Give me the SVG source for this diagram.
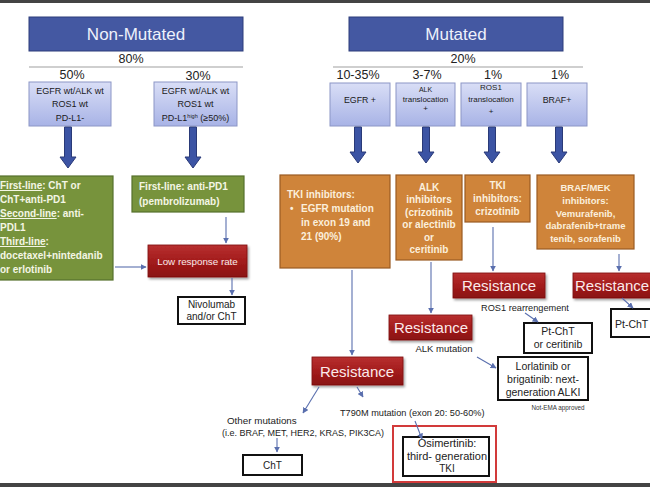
<svg xmlns="http://www.w3.org/2000/svg" width="650" height="487" viewBox="0 0 650 487">
<defs>
<linearGradient id="gBlue" x1="0" y1="0" x2="0" y2="1"><stop offset="0" stop-color="#d9def6"/><stop offset="1" stop-color="#a8b3e6"/></linearGradient>
<linearGradient id="gRed" x1="0" y1="0" x2="0" y2="1"><stop offset="0" stop-color="#b83030"/><stop offset="0.5" stop-color="#a31c1c"/><stop offset="1" stop-color="#8a1212"/></linearGradient>
<filter id="sh" x="-10%" y="-10%" width="130%" height="140%"><feDropShadow dx="1.5" dy="2" stdDeviation="1.2" flood-color="#000" flood-opacity="0.35"/></filter>
<marker id="ah" viewBox="0 0 10 10" refX="9" refY="5" markerWidth="6" markerHeight="6" markerUnits="userSpaceOnUse" orient="auto"><path d="M0,0 L10,5 L0,10 z" fill="#5a6fae"/></marker>
<style>
text{font-family:"Liberation Sans",Arial,sans-serif;}
.hdr{fill:#4458a2;stroke:#2d3c7a;stroke-width:1;}
.hdrt{fill:#eef1fb;font-size:17px;text-anchor:middle;}
.pct{fill:#222;font-size:12.5px;text-anchor:middle;}
.sep{stroke:#a0a0a0;stroke-width:1.2;}
.lb{fill:url(#gBlue);stroke:#8c96c6;stroke-width:1;}
.lbt{fill:#1a1a1a;font-size:9px;text-anchor:middle;}
.grn{fill:#77933c;stroke:#56702c;stroke-width:1.2;}
.grt{fill:#f4f6e4;font-size:10px;font-weight:bold;}
.org{fill:#cf843a;stroke:#9a5a22;stroke-width:1.2;}
.ort{fill:#fbefdc;font-size:10px;font-weight:bold;}
.ortc{fill:#fbefdc;font-size:10px;font-weight:bold;text-anchor:middle;}
.red{fill:url(#gRed);stroke:#7a1010;stroke-width:0.8;filter:url(#sh);}
.rest{fill:#fbeaea;font-size:15px;text-anchor:middle;}
.bx{fill:#fff;stroke:#111;stroke-width:2;}
.bxt{fill:#222;font-size:10.5px;text-anchor:middle;}
.lab{fill:#222;font-size:9.2px;}
.con{stroke:#5a6fae;stroke-width:1.1;fill:none;marker-end:url(#ah);}
.big{fill:#3c54a4;stroke:#2a3a78;stroke-width:1;}
</style>
</defs>
<rect x="0" y="0" width="650" height="487" fill="#fff"/>
<rect x="0" y="0" width="650" height="3" fill="#444"/>
<rect x="0" y="483" width="650" height="4" fill="#444"/>

<g id="non-mutated">
<rect class="hdr" x="29" y="17" width="214" height="34"/>
<text class="hdrt" x="136" y="40">Non-Mutated</text>
<text class="pct" x="131" y="63">80%</text>
<line class="sep" x1="29" y1="67" x2="243" y2="67"/>
</g>
<g id="mutated">
<rect class="hdr" x="349" y="17" width="214" height="34"/>
<text class="hdrt" x="456" y="40">Mutated</text>
<text class="pct" x="463" y="63">20%</text>
<line class="sep" x1="333" y1="67" x2="583" y2="67"/>
</g>

<g id="nm50">
<text class="pct" x="72" y="79">50%</text>
<rect class="lb" x="29" y="82" width="82" height="44"/>
<text class="lbt" x="70" y="94">EGFR wt/ALK wt</text>
<text class="lbt" x="70" y="107">ROS1 wt</text>
<text class="lbt" x="70" y="121">PD-L1-</text>
</g>
<g id="nm30">
<text class="pct" x="198" y="80">30%</text>
<rect class="lb" x="154" y="82" width="83" height="44"/>
<text class="lbt" x="195.5" y="94">EGFR wt/ALK wt</text>
<text class="lbt" x="195.5" y="107">ROS1 wt</text>
<text class="lbt" x="195.5" y="121">PD-L1<tspan style="font-size:5.5px" dy="-3.5">high</tspan><tspan dy="3.5"> (≥50%)</tspan></text>
</g>
<g id="egfr">
<text class="pct" x="358" y="79">10-35%</text>
<rect class="lb" x="330" y="83" width="60" height="43"/>
<text class="lbt" x="360" y="103" style="font-size:8.8px">EGFR +</text>
</g>
<g id="alk">
<text class="pct" x="427" y="79">3-7%</text>
<rect class="lb" x="396" y="83" width="59" height="43"/>
<text class="lbt" x="425.5" y="92" style="font-size:7px">ALK</text>
<text class="lbt" x="425.5" y="102" style="font-size:8px">translocation</text>
<text class="lbt" x="425.5" y="111" style="font-size:8px">+</text>
</g>
<g id="ros1">
<text class="pct" x="493" y="79">1%</text>
<rect class="lb" x="461" y="83" width="60" height="43"/>
<text class="lbt" x="491" y="90" style="font-size:8px">ROS1</text>
<text class="lbt" x="491" y="102" style="font-size:8px">translocation</text>
<text class="lbt" x="491" y="114" style="font-size:8px">+</text>
</g>
<g id="braf">
<text class="pct" x="560" y="79">1%</text>
<rect class="lb" x="527" y="83" width="60" height="43"/>
<text class="lbt" x="557" y="103" style="font-size:8.8px">BRAF+</text>
</g>

<g id="first-line-cht">
<rect class="grn" x="-3" y="176" width="116" height="104"/>
<text class="grt" x="0" y="189"><tspan text-decoration="underline">First-line</tspan>: ChT or</text>
<text class="grt" x="0" y="203">ChT+anti-PD1</text>
<text class="grt" x="0" y="217"><tspan text-decoration="underline">Second-line</tspan>: anti-</text>
<text class="grt" x="0" y="231">PDL1</text>
<text class="grt" x="0" y="245"><tspan text-decoration="underline">Third-line</tspan>:</text>
<text class="grt" x="0" y="259">docetaxel+nintedanib</text>
<text class="grt" x="0" y="273">or erlotinib</text>
</g>
<g id="first-line-pd1">
<rect class="grn" x="132" y="176" width="112" height="36"/>
<text class="grt" x="139" y="190">First-line: anti-PD1</text>
<text class="grt" x="139" y="205">(pembrolizumab)</text>
</g>
<g id="low-response">
<rect class="red" x="148" y="245" width="99" height="32"/>
<text x="197.5" y="264.5" fill="#fbeaea" font-size="9.8" text-anchor="middle">Low response rate</text>
</g>
<g id="nivolumab">
<rect class="bx" x="178" y="297" width="67" height="27"/>
<text class="bxt" x="211.5" y="308" style="font-size:10px">Nivolumab</text>
<text class="bxt" x="211.5" y="320" style="font-size:10px">and/or ChT</text>
</g>

<g id="tki-egfr">
<rect class="org" x="280" y="175" width="110" height="93"/>
<text class="ort" x="287" y="198">TKI inhibitors:</text>
<text class="ort" x="290" y="212">•</text>
<text class="ort" x="301" y="212">EGFR mutation</text>
<text class="ort" x="301" y="226">in exon 19 and</text>
<text class="ort" x="301" y="240">21 (90%)</text>
</g>
<g id="alk-inhib">
<rect class="org" x="396" y="175" width="66" height="85"/>
<text class="ortc" x="429" y="191">ALK</text>
<text class="ortc" x="429" y="203">inhibitors</text>
<text class="ortc" x="429" y="216">(crizotinib</text>
<text class="ortc" x="429" y="228">or alectinib</text>
<text class="ortc" x="429" y="241">or</text>
<text class="ortc" x="429" y="253">ceritinib</text>
</g>
<g id="tki-ros1">
<rect class="org" x="465" y="175" width="65" height="47"/>
<text class="ortc" x="497.5" y="189">TKI</text>
<text class="ortc" x="497.5" y="202">inhibitors:</text>
<text class="ortc" x="497.5" y="215">crizotinib</text>
</g>
<g id="braf-mek">
<rect class="org" x="537" y="175" width="97" height="74"/>
<text class="ortc" x="585.5" y="191" style="font-size:9.5px">BRAF/MEK</text>
<text class="ortc" x="585.5" y="204" style="font-size:9.5px">inhibitors:</text>
<text class="ortc" x="585.5" y="217" style="font-size:9.5px">Vemurafenib,</text>
<text class="ortc" x="585.5" y="229" style="font-size:9.5px">dabrafenib+trame</text>
<text class="ortc" x="585.5" y="242" style="font-size:9.5px">tenib, sorafenib</text>
</g>

<g id="res-ros1">
<rect class="red" x="453" y="273" width="92" height="25"/>
<text class="rest" x="499" y="291">Resistance</text>
</g>
<g id="res-braf">
<rect class="red" x="573" y="273" width="95" height="25"/>
<text class="rest" x="575" y="291" style="text-anchor:start">Resistance</text>
</g>
<g id="res-alk">
<rect class="red" x="389" y="315" width="83" height="25"/>
<text class="rest" x="431" y="333">Resistance</text>
</g>
<g id="res-egfr">
<rect class="red" x="312" y="357" width="91" height="28"/>
<text class="rest" x="357" y="377">Resistance</text>
</g>

<g id="pt-cht-ceritinib">
<rect class="bx" x="524" y="323" width="68" height="30"/>
<text class="bxt" x="558" y="335">Pt-ChT</text>
<text class="bxt" x="558" y="348">or ceritinib</text>
</g>
<g id="pt-cht">
<rect class="bx" x="611" y="309" width="60" height="28"/>
<text class="bxt" x="615" y="328" style="text-anchor:start">Pt-ChT</text>
</g>
<g id="lorlatinib">
<rect class="bx" x="498" y="357" width="90" height="43"/>
<text class="bxt" x="543" y="370">Lorlatinib or</text>
<text class="bxt" x="543" y="383">brigatinib: next-</text>
<text class="bxt" x="543" y="396">generation ALKI</text>
<text x="558" y="410" fill="#333" font-size="6.3" text-anchor="middle">Not-EMA approved</text>
</g>
<g id="cht">
<rect class="bx" x="243" y="455" width="59" height="20"/>
<text class="bxt" x="272.5" y="469" style="font-size:10px">ChT</text>
</g>
<g id="osimertinib">
<rect x="393" y="426" width="103" height="56" fill="#fff" stroke="#d23a3a" stroke-width="2"/>
<rect class="bx" x="403" y="437" width="86" height="39"/>
<text class="bxt" x="447" y="447" style="font-size:11px">Osimertinib:</text>
<text class="bxt" x="447" y="460" style="font-size:11px">third- generation</text>
<text class="bxt" x="447" y="472" style="font-size:10px">TKI</text>
</g>

<g id="labels">
<text class="lab" x="525" y="311" style="text-anchor:middle">ROS1 rearrengement</text>
<text class="lab" x="444" y="352" style="text-anchor:middle;font-size:9.5px">ALK mutation</text>
<text class="lab" x="340" y="416">T790M  mutation (exon 20: 50-60%)</text>
<text class="lab" x="227" y="424" style="font-size:9.8px">Other mutations</text>
<text class="lab" x="222" y="436" style="font-size:9px">(i.e. BRAF, MET, HER2,  KRAS, PIK3CA)</text>
</g>

<g id="connectors">
<path class="big" d="M64.5,127 H71.5 V157 H76 L68,168 L60,157 H64.5 Z"/>
<path class="big" d="M189.5,127 H196.5 V157 H201 L193,168 L185,157 H189.5 Z"/>
<path class="big" d="M354.5,127 H361.5 V152 H366 L358,163 L350,152 H354.5 Z"/>
<path class="big" d="M422.5,127 H429.5 V152 H434 L426,163 L418,152 H422.5 Z"/>
<path class="big" d="M488.5,127 H495.5 V152 H500 L492,163 L484,152 H488.5 Z"/>
<path class="big" d="M555.5,127 H562.5 V152 H567 L559,163 L551,152 H555.5 Z"/>
<line class="con" x1="115" y1="267" x2="146" y2="267"/>
<line class="con" x1="226" y1="217" x2="226" y2="243"/>
<line class="con" x1="232" y1="278" x2="232" y2="295"/>
<line class="con" x1="352" y1="270" x2="352" y2="355"/>
<line class="con" x1="431" y1="262" x2="431" y2="313"/>
<line class="con" x1="493" y1="227" x2="493" y2="271"/>
<line class="con" x1="619" y1="254" x2="619" y2="271"/>
<line class="con" x1="525" y1="313" x2="538" y2="322"/>
<line class="con" x1="622" y1="298" x2="633" y2="308"/>
<line class="con" x1="477" y1="357" x2="496" y2="368"/>
<line class="con" x1="319" y1="387" x2="303" y2="413"/>
<line class="con" x1="357" y1="387" x2="363" y2="397"/>
<line class="con" x1="415" y1="421" x2="422" y2="439"/>
<line class="con" x1="277" y1="438" x2="277" y2="452"/>
</g>
</svg>
